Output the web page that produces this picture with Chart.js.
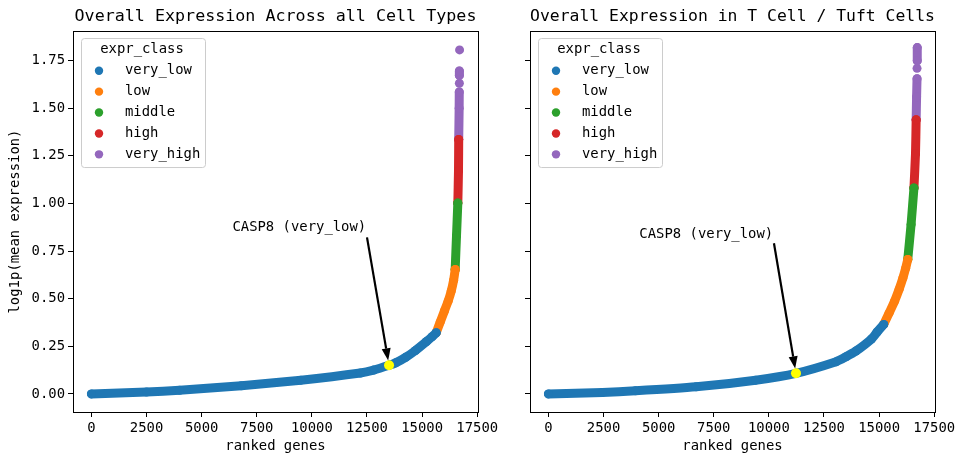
<!DOCTYPE html>
<html>
<head>
<meta charset="utf-8">
<script src="https://cdn.jsdelivr.net/npm/chart.js@4.4.1/dist/chart.umd.min.js"></script>
<style>
  html, body { margin: 0; padding: 0; background: #fff; }
  #wrap { position: relative; width: 964px; height: 464px; }
  #wrap canvas { position: absolute; left: 0; top: 0; }
</style>
</head>
<body>
<div id="wrap">
  <canvas id="allChart" width="964" height="464"></canvas>
  <canvas id="tuftChart" width="964" height="464"></canvas>
</div>
<script>
// ── Ranked gene expression, two panels sharing the y axis ─────────────────────

const hueName = 'expr_class';
const exprClasses = ['very_low', 'low', 'middle', 'high', 'very_high'];
const classColors = ['#1f77b4', '#ff7f0e', '#2ca02c', '#d62728', '#9467bd'];
const xTicks = [0, 2500, 5000, 7500, 10000, 12500, 15000, 17500];
const yTicks = [0, 0.25, 0.5, 0.75, 1.0, 1.25, 1.5, 1.75];

// [rank, log1p(mean expression)]; a null y breaks the band
const allVeryLow = [[0, 0.000], [2500, 0.010], [4000, 0.019], [6800, 0.043], [9500, 0.072],
  [12200, 0.110], [12800, 0.125], [13500, 0.150], [13800, 0.163], [14250, 0.192],
  [14700, 0.228], [15200, 0.275], [15450, 0.300], [15640, 0.321]];
const allLow = [[15640, 0.321], [15820, 0.377], [16010, 0.435], [16180, 0.487],
  [16320, 0.540], [16430, 0.597], [16500, 0.653]];
const allMiddle = [[16500, 0.653], [16560, 0.830], [16620, 1.002]];
const allHigh = [[16620, 1.002], [16650, 1.170], [16660, 1.336]];
const allVeryHigh = [[16660, 1.336], [16680, 1.500], [16685, 1.585], [16685, null],
  [16690, 1.631], [16690, null], [16690, 1.672], [16690, 1.695], [16690, null], [16700, 1.806]];

const tuftVeryLow = [[0, 0.000], [2450, 0.008], [3950, 0.016], [6700, 0.037], [9400, 0.072],
  [11230, 0.108], [13050, 0.169], [13500, 0.195], [13950, 0.225], [14650, 0.288],
  [14910, 0.325], [15210, 0.365]];
const tuftLow = [[15210, 0.365], [15450, 0.424], [15700, 0.487], [15910, 0.550],
  [16080, 0.609], [16205, 0.660], [16300, 0.706]];
const tuftMiddle = [[16300, 0.706], [16450, 0.890], [16580, 1.081]];
const tuftHigh = [[16580, 1.081], [16650, 1.260], [16680, 1.439]];
const tuftVeryHigh = [[16680, 1.439], [16700, 1.560], [16720, 1.655], [16720, null],
  [16720, 1.709], [16720, null], [16730, 1.749], [16730, 1.818]];

const geneLabel = 'CASP8 (very_low)';
const allCasp8 = [13500, 0.150];
const tuftCasp8 = [11230, 0.108];

const FONT = "'DejaVu Sans Mono', monospace";
const font = { family: FONT, size: 13.9 };

// frame, in-axes legend and the gene annotation
const decorPlugin = {
  id: 'decor',
  afterDatasetsDraw(chart, args, opts) {
    const { ctx, chartArea: a, scales: { x, y } } = chart;
    ctx.save();

    // annotation: text + filled arrow
    const n = opts.note;
    ctx.font = `13.9px ${FONT}`;
    ctx.fillStyle = '#000';
    ctx.textAlign = 'center';
    ctx.textBaseline = 'middle';
    ctx.fillText(geneLabel, x.getPixelForValue(n.text[0]), y.getPixelForValue(n.text[1]));
    const tx = x.getPixelForValue(n.tail[0]), ty = y.getPixelForValue(n.tail[1]);
    const px = x.getPixelForValue(n.point[0]), py = y.getPixelForValue(n.point[1]);
    const len = Math.hypot(px - tx, py - ty);
    const ux = (px - tx) / len, uy = (py - ty) / len;
    const hx = px - ux * 5, hy = py - uy * 5;           // tip stops short of the dot
    const bx = hx - ux * 12, by = hy - uy * 12;          // base of the head
    ctx.strokeStyle = '#000';
    ctx.lineWidth = 2.2;
    ctx.beginPath(); ctx.moveTo(tx, ty); ctx.lineTo(bx, by); ctx.stroke();
    ctx.beginPath();
    ctx.moveTo(hx, hy);
    ctx.lineTo(bx - uy * 4.5, by + ux * 4.5);
    ctx.lineTo(bx + uy * 4.5, by - ux * 4.5);
    ctx.closePath(); ctx.fill();

    // legend box
    const left = a.left + 8, top = a.top + 7, w = 124, h = 129;
    ctx.beginPath();
    ctx.roundRect(left + 0.5, top + 0.5, w, h, 3);
    ctx.fillStyle = 'rgba(255,255,255,0.8)';
    ctx.fill();
    ctx.strokeStyle = '#cccccc';
    ctx.lineWidth = 1;
    ctx.stroke();
    ctx.fillStyle = '#000';
    ctx.fillText(hueName, left + 61, top + 11.5);
    ctx.textAlign = 'left';
    exprClasses.forEach((c, i) => {
      const yy = top + 32.7 + i * 20.9;
      ctx.fillStyle = classColors[i];
      ctx.beginPath(); ctx.arc(left + 18, yy, 4.2, 0, Math.PI * 2); ctx.fill();
      ctx.fillStyle = '#000';
      ctx.fillText(c, left + 44, yy);
    });

    // axes frame
    ctx.strokeStyle = '#000';
    ctx.lineWidth = 1;
    ctx.strokeRect(Math.round(a.left) + 0.5, Math.round(a.top) + 0.5,
      Math.round(a.right - a.left), Math.round(a.bottom - a.top));
    ctx.restore();
  }
};

function bandSet(data, color) {
  return {
    data, showLine: true, spanGaps: false, order: 1, tension: 0.2,
    borderColor: color, backgroundColor: color, borderWidth: 9,
    borderCapStyle: 'round', borderJoinStyle: 'round',
    pointRadius: 4.5, pointBorderWidth: 0, pointHoverRadius: 4.5
  };
}

function buildPanel(canvasId, cfg) {
  const sets = cfg.classes.map((d, i) => bandSet(d, classColors[i]));
  sets.push({
    data: [cfg.casp8], order: 0, showLine: false,
    backgroundColor: '#ffff00', pointRadius: 5, pointBorderWidth: 0
  });
  return new Chart(document.getElementById(canvasId), {
    type: 'scatter',
    data: { datasets: sets },
    options: {
      responsive: false, animation: false, events: [],
      layout: { padding: cfg.padding },
      plugins: {
        legend: { display: false },
        tooltip: { enabled: false },
        title: {
          display: true, text: cfg.title, fullSize: false, color: '#000',
          font: { family: FONT, size: 16.7, weight: 'normal' },
          padding: { top: 7, bottom: 4 }
        },
        decor: { note: { text: cfg.noteText, tail: cfg.noteTail, point: cfg.casp8 } }
      },
      scales: {
        x: {
          type: 'linear', min: -835, max: 17535,
          afterBuildTicks: s => { s.ticks = xTicks.map(v => ({ value: v })); },
          afterFit: s => { s.height = 52; },
          ticks: { font, color: '#000', padding: 3, maxRotation: 0, autoSkip: false, callback: v => String(v) },
          grid: { drawOnChartArea: false, drawTicks: true, tickLength: 5, tickColor: '#000', tickWidth: 1 },
          border: { display: false },
          title: { display: true, text: 'ranked genes', font, color: '#000', padding: { top: 0, bottom: 9.5 } }
        },
        y: {
          type: 'linear', min: -0.095, max: 1.905,
          afterBuildTicks: s => { s.ticks = yTicks.map(v => ({ value: v })); },
          afterFit: s => { s.width = cfg.yWidth; },
          ticks: { display: cfg.yLabels, font, color: '#000', padding: 3, callback: v => v.toFixed(2) },
          grid: { drawOnChartArea: false, drawTicks: true, tickLength: 5, tickColor: '#000', tickWidth: 1 },
          border: { display: false },
          title: { display: cfg.yLabels, text: 'log1p(mean expression)', font, color: '#000', padding: { top: 7, bottom: 0 } }
        }
      }
    },
    plugins: [decorPlugin]
  });
}

buildPanel('allChart', {
  title: 'Overall Expression Across all Cell Types',
  classes: [allVeryLow, allLow, allMiddle, allHigh, allVeryHigh],
  casp8: allCasp8, noteText: [9430, 0.875], noteTail: [12500, 0.822],
  padding: { left: 0, right: 486, top: 0, bottom: 0 }, yWidth: 73, yLabels: true
});

buildPanel('tuftChart', {
  title: 'Overall Expression in T Cell / Tuft Cells',
  classes: [tuftVeryLow, tuftLow, tuftMiddle, tuftHigh, tuftVeryHigh],
  casp8: tuftCasp8, noteText: [7160, 0.838], noteTail: [10230, 0.791],
  padding: { left: 482, right: 29, top: 0, bottom: 0 }, yWidth: 48, yLabels: false
});
</script>
</body>
</html>
